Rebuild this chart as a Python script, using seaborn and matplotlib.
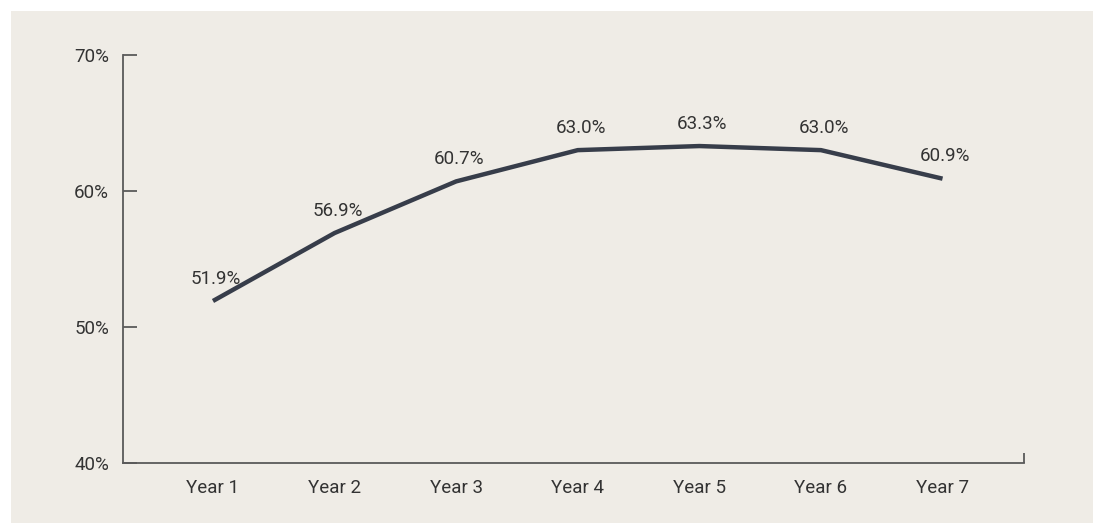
import matplotlib
matplotlib.use("Agg")
import matplotlib.pyplot as plt
from matplotlib.patches import Rectangle
import seaborn as sns
import pandas as pd

years = ["Year 1", "Year 2", "Year 3", "Year 4", "Year 5", "Year 6", "Year 7"]
values = [51.9, 56.9, 60.7, 63.0, 63.3, 63.0, 60.9]
y_ticks = [40, 50, 60, 70]
y_tick_labels = ["40%", "50%", "60%", "70%"]

sns.set_theme(style="white")
plt.rcParams["font.family"] = ["Roboto", "DejaVu Sans"]

BG = "#efece6"
LINE = "#373d4a"
TEXT = "#333333"
SPINE = "#5a5a5a"
FS = 13.5

fig = plt.figure(figsize=(10.98, 5.23), dpi=100, facecolor="white")
fig.patches.append(Rectangle((11 / 1098, 0), (1093 - 11) / 1098, (523 - 11) / 523,
                             transform=fig.transFigure, facecolor=BG, edgecolor="none", zorder=-10))
ax = fig.add_axes([123 / 1098, 60.3 / 523, (1024 - 123) / 1098, (462.7 - 55) / 523])
ax.set_zorder(1)
ax.set_facecolor("none")

df = pd.DataFrame({"x": range(len(years)), "y": values})
sns.lineplot(data=df, x="x", y="y", ax=ax, color=LINE, linewidth=3.2, solid_capstyle="butt")

for xi, v in zip(df["x"], df["y"]):
    ax.annotate(f"{v:.1f}%", (xi, v), xytext=(2, 16), textcoords="offset points",
                ha="center", va="center", fontsize=FS, color=TEXT, fontweight="normal")

ax.set_xlim(-0.74, 6.67)
ax.set_ylim(40, 70)
ax.set_yticks(y_ticks)
ax.set_yticklabels(y_tick_labels)
ax.set_xticks(list(range(len(years))))
ax.set_xticklabels(years)
ax.set_xticks([6.67], minor=True)
ax.set_xlabel("")
ax.set_ylabel("")

for s in ["top", "right"]:
    ax.spines[s].set_visible(False)
for s in ["left", "bottom"]:
    ax.spines[s].set_color(SPINE)
    ax.spines[s].set_linewidth(1.3)

ax.tick_params(axis="y", direction="in", length=10, width=1.3, color=SPINE, pad=10,
               labelsize=FS, labelcolor=TEXT, left=True)
ax.tick_params(axis="x", which="major", length=0, pad=12, labelsize=FS, labelcolor=TEXT)
ax.tick_params(axis="x", which="minor", direction="in", length=7.5, width=1.3, color=SPINE, bottom=True)

fig.savefig("out.png", dpi=100, facecolor=fig.get_facecolor())
